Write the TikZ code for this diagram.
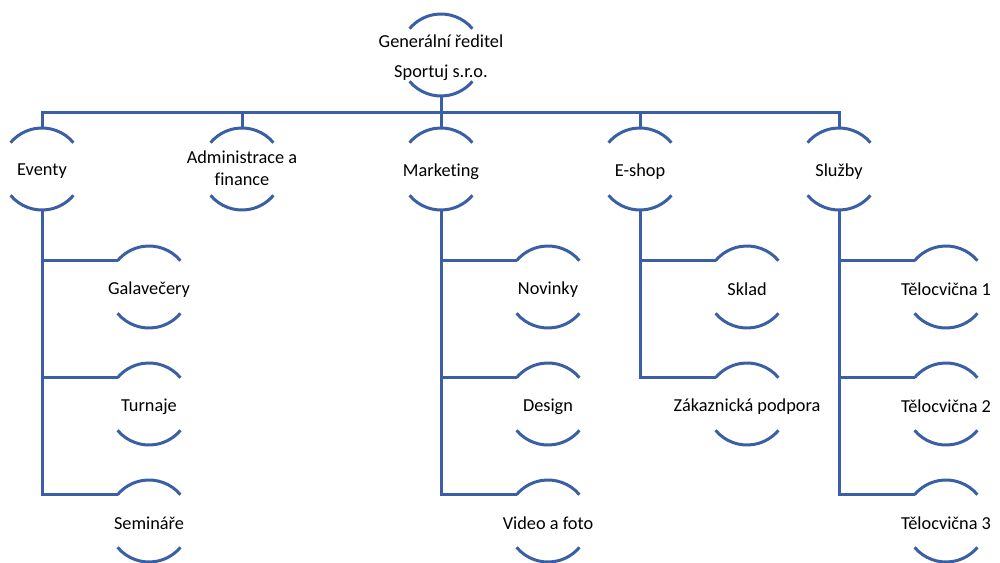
\documentclass[tikz,border=0pt]{standalone}
\usepackage{fontspec}
\setmainfont{Carlito}[Ligatures=NoCommon]
\definecolor{orgblue}{HTML}{3A5FA5}
\newcommand\orgtext[1]{\makebox[0pt]{\raisebox{-2.5pt}[\height][\depth]{#1}}}
\newcommand\orglines[1]{\makebox[0pt]{\raisebox{-1.5pt}[\height][\depth]{\begin{tabular}{@{}c@{}}#1\end{tabular}}}}
\begin{document}
\begin{tikzpicture}[x=1pt,y=1pt,
  org/.style={circle, minimum size=82pt, inner sep=0pt, outer sep=0pt,
    font=\fontsize{18.3}{22}\selectfont, text=black},
  arcline/.style={draw=orgblue, line width=3pt},
  link/.style={draw=orgblue, line width=3pt}]
\path[use as bounding box, fill=white] (0,0) rectangle (1000,-562);

% nodes
\node[org, font=\fontsize{18.3}{30}\selectfont] (gr) at (441,-55) {\orglines{Generální ředitel\\Sportuj s.r.o.}};
\node[org] (ev) at (42,-169) {\orgtext{Eventy}};
\node[org] (ad) at (242,-169) {\orglines{Administrace a\\finance}};
\node[org] (mk) at (441,-169) {\orgtext{Marketing}};
\node[org] (es) at (640,-169) {\orgtext{E-shop}};
\node[org] (sl) at (839,-169) {\orgtext{Služby}};

\node[org] (ga) at (149,-287) {\orgtext{Galavečery}};
\node[org] (tu) at (149,-404) {\orgtext{Turnaje}};
\node[org] (se) at (149,-521) {\orgtext{Semináře}};

\node[org] (no) at (548,-287) {\orgtext{Novinky}};
\node[org] (de) at (548,-404) {\orgtext{Design}};
\node[org] (vf) at (548,-521) {\orgtext{Video a foto}};

\node[org] (sk) at (747,-287) {\orgtext{Sklad}};
\node[org] (zp) at (747,-404) {\orgtext{Zákaznická podpora}};

\node[org] (t1) at (946,-287) {\orgtext{Tělocvična 1}};
\node[org] (t2) at (946,-404) {\orgtext{Tělocvična 2}};
\node[org] (t3) at (946,-521) {\orgtext{Tělocvična 3}};

% arcs
\foreach \n in {gr,ev,ad,mk,es,sl,ga,tu,se,no,de,vf,sk,zp,t1,t2,t3}{
  \draw[arcline] (\n.40) arc[start angle=40, end angle=140, radius=41pt];
  \draw[arcline] (\n.220) arc[start angle=220, end angle=320, radius=41pt];
}

% bus
\coordinate (bus) at (441,-112);
\draw[link] (gr.south) -- (gr.south |- bus);
\draw[link] (ev.north) |- (sl.north |- bus) -- (sl.north);
\draw[link] (ad.north) -- (ad.north |- bus);
\draw[link] (mk.north) -- (mk.north |- bus);
\draw[link] (es.north) -- (es.north |- bus);

% children
\draw[link] (ev.south) |- (se.140);
\draw[link] (ev.south |- ga.140) -- (ga.140);
\draw[link] (ev.south |- tu.140) -- (tu.140);

\draw[link] (mk.south) |- (vf.140);
\draw[link] (mk.south |- no.140) -- (no.140);
\draw[link] (mk.south |- de.140) -- (de.140);

\draw[link] (es.south) |- (zp.140);
\draw[link] (es.south |- sk.140) -- (sk.140);

\draw[link] (sl.south) |- (t3.140);
\draw[link] (sl.south |- t1.140) -- (t1.140);
\draw[link] (sl.south |- t2.140) -- (t2.140);
\end{tikzpicture}
\end{document}
